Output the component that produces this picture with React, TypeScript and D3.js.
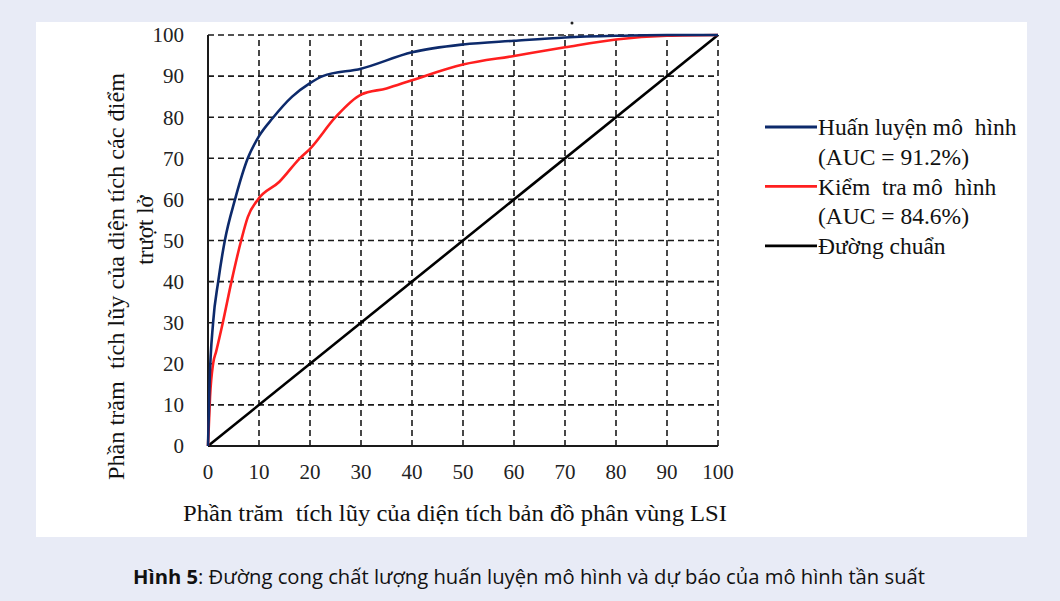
import React, { useRef, useEffect } from 'react';
import * as d3 from 'd3';

// ROC-like success rate curves
const ticks = [0, 10, 20, 30, 40, 50, 60, 70, 80, 90, 100];

const trainX = [0, 0.3, 1, 2, 3.3, 5.3, 7.8, 10, 12.7, 16.5, 20, 22.5, 30, 40, 50, 60, 70, 80, 90, 100];
const trainY = [0, 15, 30, 40, 50, 60, 70, 75.4, 79.8, 85, 88.3, 90, 91.8, 95.8, 97.7, 98.6, 99.4, 99.8, 100, 100];

const testX = [0, 0.4, 1, 1.6, 2.9, 4.6, 6.5, 7.8, 9.8, 14, 18, 20, 25, 30, 35, 40, 50, 60, 70, 80, 90, 100];
const testY = [0, 12, 20, 23, 30, 40, 50, 55.7, 60, 64.3, 70, 72.3, 80, 85.5, 87, 89, 92.8, 94.9, 97, 98.9, 99.8, 100];

const baseX = [0, 100];
const baseY = [0, 100];

const legendItems = [
  { color: '#0d2a6b', lines: ['Huấn luyện mô  hình', '(AUC = 91.2%)'] },
  { color: '#ff1f1f', lines: ['Kiểm  tra mô  hình', '(AUC = 84.6%)'] },
  { color: '#000000', lines: ['Đường chuẩn'] },
];

const xTitle = 'Phần trăm  tích lũy của diện tích bản đồ phân vùng LSI';
const yTitle1 = 'Phần trăm  tích lũy của diện tích các điểm';
const yTitle2 = 'trượt lở';

const App = () => {
  const svgRef = useRef<SVGSVGElement>(null);

  useEffect(() => {
    const width = 1060;
    const height = 601;
    const svg = d3.select(svgRef.current);
    svg.selectAll('*').remove();

    const serif = '"Liberation Serif", "Times New Roman", serif';

    // background + white panel
    svg.append('rect').attr('width', width).attr('height', height).attr('fill', '#e8ebf6');
    svg.append('rect').attr('x', 36).attr('y', 22).attr('width', 991).attr('height', 515).attr('fill', '#ffffff');

    const margin = { left: 208, top: 35, right: 342, bottom: 155 };
    const xScale = d3.scaleLinear().domain([0, 100]).range([margin.left, width - margin.right]);
    const yScale = d3.scaleLinear().domain([0, 100]).range([height - margin.bottom, margin.top]);

    const g = svg.append('g');

    // dashed grid
    ticks.filter(t => t > 0).forEach(t => {
      g.append('line')
        .attr('x1', xScale(0)).attr('x2', xScale(100))
        .attr('y1', yScale(t)).attr('y2', yScale(t))
        .attr('stroke', '#1a1a1a').attr('stroke-width', 1.6)
        .attr('stroke-dasharray', '6,4');
      g.append('line')
        .attr('x1', xScale(t)).attr('x2', xScale(t))
        .attr('y1', yScale(0)).attr('y2', yScale(100))
        .attr('stroke', '#1a1a1a').attr('stroke-width', 1.6)
        .attr('stroke-dasharray', '6,4');
    });

    // solid axes
    g.append('line')
      .attr('x1', xScale(0)).attr('x2', xScale(0))
      .attr('y1', yScale(0)).attr('y2', yScale(100))
      .attr('stroke', '#1a1a1a').attr('stroke-width', 2);
    g.append('line')
      .attr('x1', xScale(0)).attr('x2', xScale(100))
      .attr('y1', yScale(0)).attr('y2', yScale(0))
      .attr('stroke', '#1a1a1a').attr('stroke-width', 2);

    // tick labels
    ticks.forEach(t => {
      g.append('text')
        .attr('x', 184).attr('y', yScale(t)).attr('dy', '0.35em')
        .attr('text-anchor', 'end')
        .style('font-family', serif).style('font-size', '21px').attr('fill', '#222')
        .text(t);
      g.append('text')
        .attr('x', xScale(t)).attr('y', 472).attr('dy', '0.35em')
        .attr('text-anchor', 'middle')
        .style('font-family', serif).style('font-size', '21px').attr('fill', '#222')
        .text(t);
    });

    // axis titles
    g.append('text')
      .attr('x', 183).attr('y', 513).attr('dy', '0.35em')
      .attr('textLength', 544).attr('lengthAdjust', 'spacingAndGlyphs')
      .style('font-family', serif).style('font-size', '23px').style('white-space', 'pre').attr('fill', '#111')
      .text(xTitle);
    g.append('text')
      .attr('transform', 'translate(116,480) rotate(-90)')
      .attr('dy', '0.35em')
      .attr('textLength', 407).attr('lengthAdjust', 'spacingAndGlyphs')
      .style('font-family', serif).style('font-size', '23px').style('white-space', 'pre').attr('fill', '#111')
      .text(yTitle1);
    g.append('text')
      .attr('transform', 'translate(145,230) rotate(-90)')
      .attr('dy', '0.35em').attr('text-anchor', 'middle')
      .style('font-family', serif).style('font-size', '23px').attr('fill', '#111')
      .text(yTitle2);

    // curves
    const line = d3.line<[number, number]>()
      .x(d => xScale(d[0]))
      .y(d => yScale(d[1]))
      .curve(d3.curveMonotoneX);

    const series = [
      { xs: baseX, ys: baseY, color: legendItems[2].color },
      { xs: testX, ys: testY, color: legendItems[1].color },
      { xs: trainX, ys: trainY, color: legendItems[0].color },
    ];
    series.forEach(s => {
      const pts = s.xs.map((x, i) => [x, s.ys[i]] as [number, number]);
      g.append('path')
        .attr('d', line(pts))
        .attr('fill', 'none')
        .attr('stroke', s.color)
        .attr('stroke-width', 2.6)
        .attr('stroke-linejoin', 'round');
    });

    // stray dot above the plot
    g.append('circle').attr('cx', 572).attr('cy', 23).attr('r', 1.5).attr('fill', '#222');

    // legend
    const legend = svg.append('g');
    let row = 0;
    legendItems.forEach(item => {
      const y0 = 127 + row * 29.7;
      legend.append('line')
        .attr('x1', 765).attr('x2', 817)
        .attr('y1', y0).attr('y2', y0)
        .attr('stroke', item.color).attr('stroke-width', 2.8);
      item.lines.forEach((txt, i) => {
        legend.append('text')
          .attr('x', 818).attr('y', y0 + i * 29.7).attr('dy', '0.35em')
          .style('font-family', serif).style('font-size', '23.5px').style('white-space', 'pre').attr('fill', '#111')
          .text(txt);
      });
      row += item.lines.length;
    });

    // caption
    const cap = svg.append('text')
      .attr('x', 133).attr('y', 577).attr('dy', '0.35em')
      .attr('textLength', 792).attr('lengthAdjust', 'spacingAndGlyphs')
      .style('font-family', '"Open Sans", "Noto Sans", sans-serif').style('font-size', '20px').attr('fill', '#111');
    cap.append('tspan').style('font-weight', 'bold').text('Hình 5');
    cap.append('tspan').text(': Đường cong chất lượng huấn luyện mô hình và dự báo của mô hình tần suất');
  }, []);

  return (
    <div style={{ position: 'fixed', left: 0, top: 0 }}>
      <svg ref={svgRef} width={1060} height={601} style={{ display: 'block' }}></svg>
    </div>
  );
};

export default App;
